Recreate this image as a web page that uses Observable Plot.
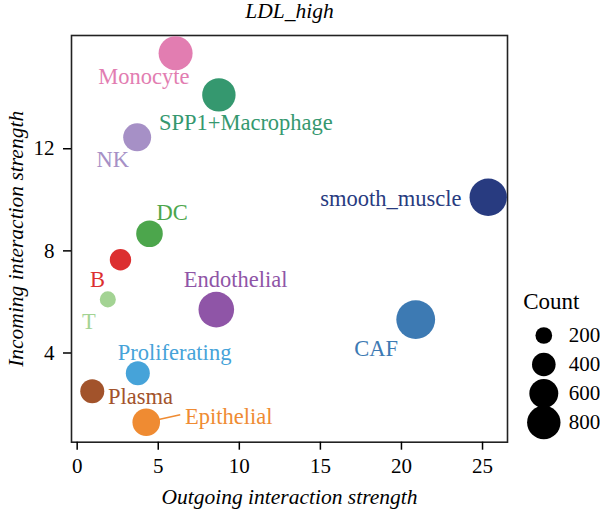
<!DOCTYPE html>
<html><head><meta charset="utf-8">
<script src="https://cdn.jsdelivr.net/npm/d3@7"></script>
<script src="https://cdn.jsdelivr.net/npm/@observablehq/plot@0.6"></script>
<style>
body{margin:0;background:#fff;}
#wrap{position:relative;width:600px;height:511px;overflow:hidden;background:#fff;}
#legend{position:absolute;left:500px;top:280px;}
html body #wrap svg text, html body #wrap svg tspan, html body #wrap svg g{font-family:"Liberation Serif" !important;}
</style></head><body><div id="wrap"></div>
<script>
// ---- data ----
const cellTypes = ["Monocyte","SPP1+Macrophage","NK","smooth_muscle","DC","B","T","Endothelial","CAF","Proliferating","Plasma","Epithelial"];
const outgoing  = [6.07, 8.74, 3.70, 25.35, 4.46, 2.67, 1.89, 8.58, 20.88, 3.74, 0.93, 4.26];
const incoming  = [15.74, 14.11, 12.45, 10.10, 8.67, 7.65, 6.10, 5.70, 5.31, 3.21, 2.50, 1.29];
const counts    = [829, 800, 560, 1000, 507, 328, 184, 909, 1080, 413, 413, 546];
const colors    = ["#E27DB1","#35986F","#A690C6","#283B80","#4CA64C","#DC2F30","#A3D393","#8F55A7","#3D7AB3","#46A3D9","#A2532B","#EF8B32"];
const xTicks = [0,5,10,15,20,25];
const yTicks = [4,8,12];
const sizeBreaks = [200,400,600,800];
const titleText = "LDL_high";
const xTitle = "Outgoing interaction strength";
const yTitle = "Incoming interaction strength";
const legendTitle = "Count";

// ---- layout (label repel offsets in px) ----
const labelNudge = [[-31.7,23.2],[27,28.3],[-24.5,22.8],[-97.3,1.1],[22.7,-20.5],[-23,19.5],[-19,22],[19.3,-29.5],[-39.5,28.8],[36.7,-20.7],[48.3,5.3],[82.5,-5.7]];

const data = cellTypes.map((c,i)=>({type:c, x:outgoing[i], y:incoming[i], count:counts[i]}));
const W=600, H=511, ml=71, mr=93, mt=35, mb=69.3;
const xDomain=[-0.35,26.54], yDomain=[0.506,16.436];
const rOpt = {type:"sqrt", domain:[0,800], range:[0,16.7]};
const xs = Plot.scale({x:{domain:xDomain, range:[ml, W-mr]}});
const ys = Plot.scale({y:{domain:yDomain, range:[H-mb, mt]}});
const font = "Liberation Serif";

const epi = data.filter(d=>d.type==="Epithelial");

const plot = Plot.plot({
  width: W, height: H,
  marginLeft: ml, marginRight: mr, marginTop: mt, marginBottom: mb,
  style: {fontFamily: font, fontSize: "21px", color: "black", background: "white"},
  x: {domain: xDomain},
  y: {domain: yDomain},
  r: rOpt,
  color: {domain: cellTypes, range: colors},
  marks: [
    Plot.frame({stroke:"#222", strokeWidth:1.6}),
    Plot.axisX({ticks: xTicks, tickSize: 8, tickPadding: 8, fontSize: 21, fontFamily: font, label: null, strokeWidth: 1.5}),
    Plot.axisY({ticks: yTicks, tickSize: 8, tickPadding: 9, fontSize: 21, fontFamily: font, label: null, strokeWidth: 1.5}),
    Plot.link(epi, {x1:"x", y1:"y", x2: d=>xs.invert(xs.apply(d.x)+34), y2: d=>ys.invert(ys.apply(d.y)-7.4), stroke:"type", strokeWidth:1.5}),
    Plot.dot(data, {x:"x", y:"y", r:"count", fill:"type"}),
    ...data.map((d,i)=>Plot.text([d], {x:"x", y:"y", text:"type", fill:"type", dx:labelNudge[i][0], dy:labelNudge[i][1], fontSize:22.5, fontFamily: font})),
    Plot.text([titleText], {frameAnchor:"top", textAnchor:"middle", dy:-18, lineAnchor:"bottom", fontSize:21.5, fontStyle:"italic", fontFamily: font}),
    Plot.text([xTitle], {frameAnchor:"bottom", textAnchor:"middle", dy:61.6, lineAnchor:"bottom", fontSize:21.5, fontStyle:"italic", fontFamily: font}),
    Plot.text([yTitle], {frameAnchor:"left", textAnchor:"middle", dx:-49, rotate:-90, lineAnchor:"bottom", fontSize:21.5, fontStyle:"italic", fontFamily: font})
  ]
});
document.getElementById("wrap").appendChild(plot);

const legend = Plot.plot({
  width: 100, height: 160,
  marginLeft: 0, marginRight: 13.4, marginTop: 0, marginBottom: 0,
  style: {fontFamily: font, fontSize: "21px", color: "black", background: "transparent"},
  x: {axis: null},
  y: {type: "point", domain: sizeBreaks, range: [54, 142], padding: 0, axis: null},
  r: rOpt,
  marks: [
    Plot.text([legendTitle], {frameAnchor:"top-left", dx:22.7, dy:28, textAnchor:"start", lineAnchor:"bottom", fontSize:23, fontFamily: font}),
    Plot.dot(sizeBreaks, {y: d=>d, r: d=>d, fill:"black"}),
    Plot.text(sizeBreaks, {y: d=>d, text: d=>String(d), dx:25, textAnchor:"start", fontSize:21, fontFamily: font})
  ]
});
legend.id = "legend";
document.getElementById("wrap").appendChild(legend);

// force the serif face directly on every svg and text node
document.querySelectorAll("#wrap svg, #wrap svg g, #wrap svg text, #wrap svg tspan").forEach(el => {
  el.setAttribute("font-family", font);
  el.style.setProperty("font-family", font, "important");
});
</script></body></html>
